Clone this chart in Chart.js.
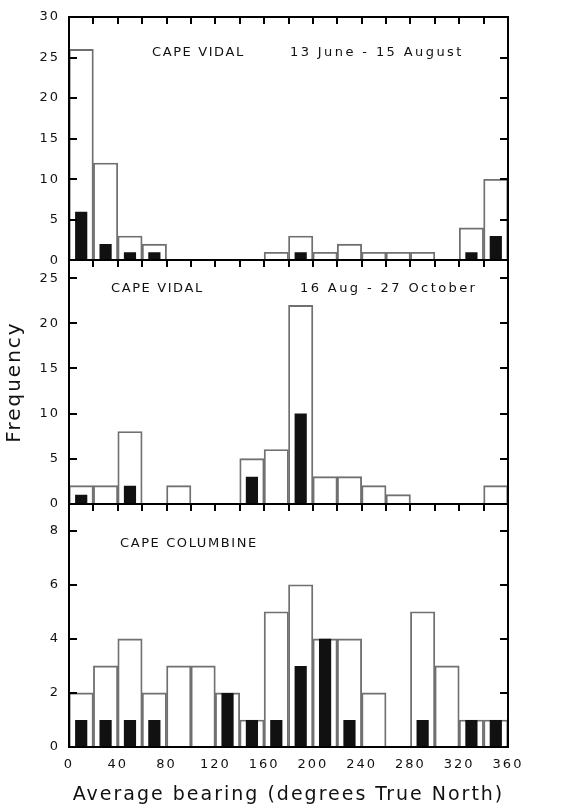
<!DOCTYPE html>
<html>
<head>
<meta charset="utf-8">
<script src="https://cdn.jsdelivr.net/npm/chart.js@4.4.0/dist/chart.umd.min.js"></script>
<style>
    html, body { margin: 0; padding: 0; background: #fff; }
    #wrap { position: relative; width: 580px; height: 810px; }
    #wrap canvas { position: absolute; left: 0; top: 0; display: block; }
    #overlay { pointer-events: none; }
</style>
</head>
<body>
<div id="wrap">
    <canvas id="chart" width="580" height="810"></canvas>
    <canvas id="overlay" width="580" height="810"></canvas>
</div>
<script>
// 20 degree bearing bins, start of each bin
const binStarts = [0, 20, 40, 60, 80, 100, 120, 140, 160, 180, 200, 220, 240, 260, 280, 300, 320, 340];
const binWidth = 20;

// Cape Vidal, 13 June - 15 August
const vidalWinterAll = [26, 12, 3, 2, 0, 0, 0, 0, 1, 3, 1, 2, 1, 1, 1, 0, 4, 10];
const vidalWinterBlack = [6, 2, 1, 1, 0, 0, 0, 0, 0, 1, 0, 0, 0, 0, 0, 0, 1, 3];

// Cape Vidal, 16 Aug - 27 October
const vidalSpringAll = [2, 2, 8, 0, 2, 0, 0, 5, 6, 22, 3, 3, 2, 1, 0, 0, 0, 2];
const vidalSpringBlack = [1, 0, 2, 0, 0, 0, 0, 3, 0, 10, 0, 0, 0, 0, 0, 0, 0, 0];

// Cape Columbine
const columbineAll = [2, 3, 4, 2, 3, 3, 2, 1, 5, 6, 4, 4, 2, 0, 5, 3, 1, 1];
const columbineBlack = [1, 1, 1, 1, 0, 0, 2, 1, 1, 3, 4, 1, 0, 0, 1, 0, 1, 1];

const xTickLabels = [0, 40, 80, 120, 160, 200, 240, 280, 320, 360];

// top to bottom: [text, dx, dy, letter spacing]
const panels = [
    {id: 'yTop', max: 30, step: 5, all: vidalWinterAll, black: vidalWinterBlack,
        texts: [['CAPE VIDAL', 83, 39, 1.6], ['13 June - 15 August', 221, 39, 2.4]]},
    {id: 'yMid', max: 27, step: 5, all: vidalSpringAll, black: vidalSpringBlack,
        texts: [['CAPE VIDAL', 42, 32, 1.6], ['16 Aug - 27 October', 231, 32, 2.4]]},
    {id: 'yBot', max: 9, step: 2, all: columbineAll, black: columbineBlack,
        texts: [['CAPE COLUMBINE', 51, 43, 1.6]]}
];

const FONT = 'DejaVu Sans';

function toPoints(vals) {
    return binStarts.map((b, i) => ({x: b + binWidth / 2, y: vals[i]}));
}

const datasets = [];
panels.forEach(p => {
    datasets.push({
        data: toPoints(p.black),
        yAxisID: p.id,
        backgroundColor: '#111',
        borderWidth: 0,
        barPercentage: 0.5,
        categoryPercentage: 1,
        grouped: false,
        order: 0
    });
    datasets.push({
        data: toPoints(p.all),
        yAxisID: p.id,
        backgroundColor: 'rgba(255,255,255,0)',
        borderColor: '#707070',
        borderWidth: 1.2,
        borderSkipped: 'start',
        barPercentage: 1,
        categoryPercentage: 1,
        grouped: false,
        order: 1
    });
});

const scales = {
    x: {
        type: 'linear',
        min: 0,
        max: 360,
        offset: false,
        grid: {display: false, drawTicks: false},
        border: {display: true, color: '#111', width: 1.5},
        afterBuildTicks: s => { s.ticks = xTickLabels.map(v => ({value: v})); },
        ticks: {color: '#111', font: {family: FONT, size: 13}, padding: 10, maxRotation: 0, autoSkip: false},
        title: {display: true, text: 'Average bearing (degrees True North)', color: '#111',
            font: {family: FONT, size: 19}, padding: {top: 8, bottom: 4}},
        afterFit: s => { s.height = 63; }
    }
};

// stacked left axes are laid out bottom first, so add them in reverse
panels.slice().reverse().forEach(p => {
    scales[p.id] = {
        type: 'linear',
        position: 'left',
        stack: 'panels',
        stackWeight: 1,
        min: 0,
        max: p.max,
        grid: {display: false, drawTicks: false},
        border: {display: true, color: '#111', width: 1.5},
        ticks: {color: '#111', font: {family: FONT, size: 13}, padding: 9, autoSkip: false},
        afterBuildTicks: s => {
            const t = [];
            for (let v = 0; v <= p.max; v += p.step) t.push({value: v});
            s.ticks = t;
        },
        title: {display: p.id === 'yMid', text: 'Frequency', color: '#111',
            font: {family: FONT, size: 20}, padding: {top: 3, bottom: 0}},
        afterFit: s => { s.width = 69; }
    };
});

const spacing = {
    id: 'spacing',
    beforeUpdate(chart) { chart.ctx.letterSpacing = '2px'; },
    beforeDraw(chart) { chart.ctx.letterSpacing = '2px'; }
};

const chart = new Chart(document.getElementById('chart'), {
    type: 'bar',
    data: {datasets: datasets},
    options: {
        responsive: false,
        animation: false,
        devicePixelRatio: 1,
        layout: {padding: {top: 17, right: 72, left: 0, bottom: 0}},
        plugins: {legend: {display: false}, tooltip: {enabled: false}},
        scales: scales
    },
    plugins: [spacing]
});

// panel frames, inward ticks and captions on a separate layer, lines as pixel rects
function drawFrames() {
    const ctx = document.getElementById('overlay').getContext('2d');
    const area = chart.chartArea;
    const xs = chart.scales.x;
    const L = Math.round(area.left);
    const R = Math.round(area.right);
    ctx.clearRect(0, 0, 580, 810);
    ctx.fillStyle = '#000';
    panels.forEach(p => {
        const s = chart.scales[p.id];
        const T = Math.round(s.top);
        const B = Math.round(s.bottom);
        ctx.fillRect(L - 1, T - 1, R - L + 2, 2);
        ctx.fillRect(L - 1, B - 1, R - L + 2, 2);
        ctx.fillRect(L - 1, T - 1, 2, B - T + 2);
        ctx.fillRect(R - 1, T - 1, 2, B - T + 2);
        for (let v = binWidth; v < 360; v += binWidth) {
            const px = Math.round(xs.getPixelForValue(v));
            ctx.fillRect(px - 1, T, 2, 7);
        }
        s.ticks.forEach(t => {
            if (t.value <= 0 || t.value >= p.max) return;
            const py = Math.round(s.getPixelForValue(t.value));
            ctx.fillRect(L, py - 1, 8, 2);
            ctx.fillRect(R - 8, py - 1, 8, 2);
        });
    });
    ctx.fillStyle = '#111';
    ctx.font = '13px "' + FONT + '"';
    ctx.textAlign = 'left';
    ctx.textBaseline = 'alphabetic';
    panels.forEach(p => {
        const s = chart.scales[p.id];
        p.texts.forEach(([txt, dx, dy, ls]) => {
            ctx.letterSpacing = ls + 'px';
            ctx.fillText(txt, area.left + dx, s.top + dy);
        });
    });
}
drawFrames();
</script>
</body>
</html>
